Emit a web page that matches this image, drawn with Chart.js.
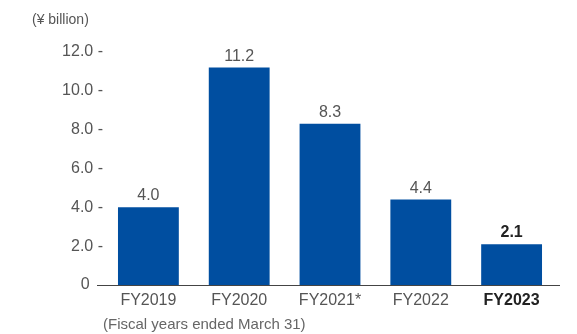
<!DOCTYPE html>
<html>
<head>
<meta charset="utf-8">
<script src="https://cdn.jsdelivr.net/npm/chart.js@4/dist/chart.umd.min.js"></script>
<style>
  html, body { margin: 0; padding: 0; background: #fff; }
  #wrap { position: relative; width: 577px; height: 334px; font-family: "Liberation Sans", Arial, sans-serif; }
  #unit { position: absolute; left: 32px; top: 11px; font-size: 14px; color: #555; }
  #note { position: absolute; left: 103px; top: 315px; font-size: 15px; color: #666; }
  canvas { position: absolute; left: 0; top: 0; }
</style>
</head>
<body>
<div id="wrap">
  <canvas id="grafico" width="577" height="334"></canvas>
  <div id="unit">(¥ billion)</div>
  <div id="note">(Fiscal years ended March 31)</div>
</div>
<script>
const categorias = ['FY2019', 'FY2020', 'FY2021*', 'FY2022', 'FY2023'];
const valores = [4.0, 11.2, 8.3, 4.4, 2.1];
const ticksY = [0, 2, 4, 6, 8, 10, 12];
const ultimo = categorias.length - 1;
const fuente = '"Liberation Sans", Arial, sans-serif';

// linea base y etiquetas de valor sobre cada barra
const etiquetas = {
    id: 'etiquetas',
    afterDatasetsDraw(chart) {
        const ctx = chart.ctx;
        const y0 = chart.scales.y.getPixelForValue(0);
        ctx.save();
        ctx.strokeStyle = '#444';
        ctx.lineWidth = 1;
        ctx.beginPath();
        ctx.moveTo(chart.chartArea.left - 6, Math.round(y0) + 0.5);
        ctx.lineTo(chart.chartArea.right + 3, Math.round(y0) + 0.5);
        ctx.stroke();
        ctx.textAlign = 'center';
        ctx.textBaseline = 'alphabetic';
        chart.getDatasetMeta(0).data.forEach((bar, i) => {
            const ult = i === ultimo;
            ctx.font = (ult ? 'bold ' : '') + '16px ' + fuente;
            ctx.fillStyle = ult ? '#222' : '#555';
            ctx.fillText(valores[i].toFixed(1), bar.x, bar.y - 7);
        });
        ctx.restore();
    }
};

new Chart(document.getElementById('grafico').getContext('2d'), {
    type: 'bar',
    data: {
        labels: categorias,
        datasets: [{
            data: valores,
            backgroundColor: '#004ea0',
            barPercentage: 0.67,
            categoryPercentage: 1
        }]
    },
    options: {
        responsive: false,
        animation: false,
        layout: { padding: { top: 52, right: 20, bottom: 19, left: 0 } },
        plugins: { legend: { display: false }, tooltip: { enabled: false } },
        scales: {
            x: {
                grid: { display: false, drawTicks: false },
                border: { display: false },
                afterFit: s => { s.height = 30; },
                ticks: {
                    padding: 6,
                    color: c => c.index === ultimo ? '#222' : '#555',
                    font: c => ({ family: fuente, size: 16, weight: c.index === ultimo ? 'bold' : 'normal' })
                }
            },
            y: {
                min: 0,
                max: 12,
                grid: { display: false, drawTicks: false },
                border: { display: false },
                afterFit: s => { s.width = 103; },
                afterBuildTicks: s => { s.ticks = ticksY.map(v => ({ value: v })); },
                ticks: {
                    padding: 0,
                    color: '#555',
                    font: { family: fuente, size: 16 },
                    callback: v => v === 0 ? '0   ' : v.toFixed(1) + ' -'
                }
            }
        }
    },
    plugins: [etiquetas]
});
</script>
</body>
</html>
